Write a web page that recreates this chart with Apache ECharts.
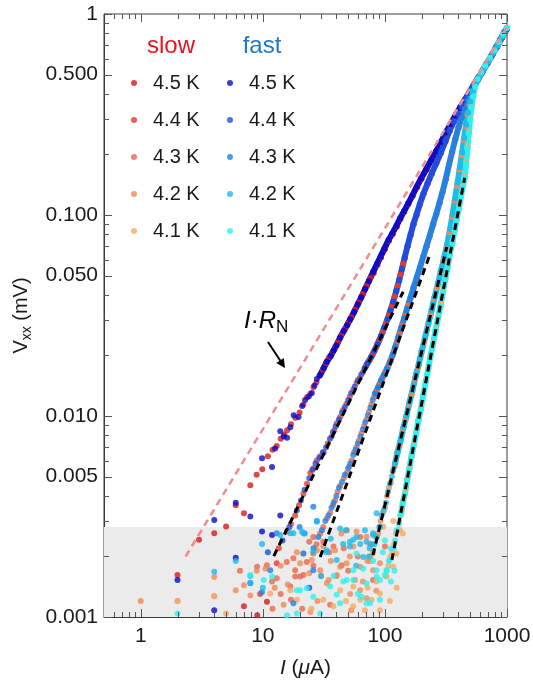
<!DOCTYPE html>
<html>
<head>
<meta charset="utf-8">
<script src="https://cdn.jsdelivr.net/npm/echarts@6/dist/echarts.min.js"></script>
<style>
  html, body { margin: 0; padding: 0; background: #ffffff; }
  #chart { width: 533px; height: 683px; }
</style>
</head>
<body>
<div id="chart"></div>
<script>
// ---- axis ticks and labels ----
const xMajor = [1, 10, 100, 1000];
const xMinor = [0.6, 0.7, 0.8, 0.9, 2, 3, 4, 5, 6, 7, 8, 9, 20, 30, 40, 50, 60, 70, 80, 90,
                200, 300, 400, 500, 600, 700, 800, 900];
const yMajor = [0.001, 0.005, 0.01, 0.05, 0.1, 0.5, 1];
const yMajorLabels = ['0.001', '0.005', '0.010', '0.050', '0.100', '0.500', '1'];
const yMinor = [0.002, 0.003, 0.004, 0.006, 0.007, 0.008, 0.009,
                0.02, 0.03, 0.04, 0.06, 0.07, 0.08, 0.09,
                0.2, 0.3, 0.4, 0.6, 0.7, 0.8, 0.9];

// measurement noise floor (mV)
const NOISE_FLOOR = 0.0028;

// ---- reference lines: I·R_N and power-law fits [I (uA), V (mV)] ----
const irnLine = [[2.33, 0.002], [1000, 0.86]];
const fit44 = [[12.3, 0.00201], [141, 0.0415]];
const fit43 = [[29.5, 0.00199], [233, 0.0633]];
const fit42 = [[79.8, 0.00203], [321, 0.0693]];
const fit41 = [[114, 0.00192], [450, 0.153]];

// ---- 4.5 K ----
const slow45 = [[2,0.00162],[3,0.00242],[4,0.00261],[5,0.00282],[6,0.0036],[7,0.00328],[7,0.00113],[7.9,0.00452],[8.9,0.0051],[9,0.00102],[9.9,0.00543],[10.8,0.00119],[11,0.0063],[12,0.0068],[13,0.0071],[14,0.0077],[15,0.0081],[15.8,0.0085],[17,0.0091],[18.5,0.0098],[20,0.0104],[21.5,0.0114],[23,0.0124],[24.5,0.0129],[26,0.0139],[27.5,0.0147]];
const slow45Band = [[29,0.0158],[31,0.017],[33,0.0183],[35,0.0196],[37,0.0206],[39,0.0219],[41,0.0232],[44,0.0252],[47,0.0271],[50,0.029],[53,0.031],[57,0.0338],[61,0.0367],[66,0.0405],[71,0.0445],[76,0.0485],[81,0.0515],[87,0.0565],[93,0.0615],[100,0.0675],[108,0.0745],[116,0.0805],[125,0.0875],[134,0.0955],[144,0.1035],[156,0.1135],[169,0.1245],[184,0.1375],[200,0.1515],[220,0.1685],[242,0.1875],[265,0.2065],[290,0.2305],[318,0.2565],[348,0.2835],[380,0.3125],[415,0.3415],[452,0.3725],[493,0.4055],[538,0.4425],[583,0.4795],[633,0.5195],[693,0.5695],[763,0.6295],[833,0.6895],[913,0.7645],[1000,0.845]];
const fast45 = [[2,0.00153],[4,0.00304],[4,0.00108],[6,0.0037],[6,0.00197],[7.9,0.00316],[9.85,0.00616],[9.85,0.00266],[11.9,0.00558],[11.9,0.00256],[12.6,0.0069],[13.9,0.0084],[13.9,0.0032],[14.8,0.0079],[15.8,0.0078],[16.8,0.0088],[17.9,0.0101],[19.6,0.0099],[21,0.0112],[22.2,0.012],[23.8,0.0125],[25.2,0.013],[26.5,0.0142],[27.7,0.0153]];
const fast45Band = [[29.5,0.016],[31.5,0.0173],[33.4,0.0186],[36,0.0199],[38,0.0212],[40,0.0224],[43,0.0246],[46,0.0265],[49,0.0283],[52,0.0303],[56,0.033],[60,0.036],[64,0.039],[69,0.043],[74,0.047],[80,0.052],[86,0.057],[92,0.062],[99,0.068],[107,0.075],[115,0.081],[124,0.088],[133,0.096],[143,0.104],[155,0.114],[168,0.125],[182,0.138],[198,0.152],[218,0.169],[240,0.188],[262,0.207],[288,0.231],[316,0.257],[345,0.284],[378,0.313],[412,0.342],[450,0.373],[490,0.406],[535,0.443],[580,0.48],[630,0.52],[690,0.57],[760,0.63],[830,0.69],[910,0.765],[1000,0.845]];

// ---- 4.4 K ----
const slow44 = [[9.5,0.0013],[13,0.00185],[13.5,0.0022],[15.8,0.00266],[17,0.0029],[18.4,0.0032],[19.8,0.0036],[21.5,0.0041],[23,0.0046],[24.5,0.0052],[26,0.0055],[27.7,0.006],[29.5,0.0063],[31.5,0.0066],[34,0.0073],[36.6,0.0079],[38.5,0.0085],[40.3,0.0092],[43,0.0099],[45.5,0.0107],[48.5,0.0115],[51.6,0.0125],[55,0.0135],[58.5,0.0146],[62,0.0154],[66,0.0165]];
const slow44Band = [[70,0.0177],[75,0.019],[80,0.0204],[85,0.022],[90,0.0238],[96,0.0262],[102,0.029],[108,0.0318],[114,0.0352],[120,0.0392],[127,0.0445],[134,0.0505],[141,0.057],[146,0.0612],[154,0.07],[163,0.0795],[172,0.09],[182,0.1],[194,0.113],[208,0.128],[224,0.143],[243,0.161],[264,0.181],[288,0.204],[313,0.232],[339,0.262],[366,0.29],[396,0.318],[426,0.345],[459,0.374],[493,0.406],[531,0.44],[573,0.475],[621,0.512],[676,0.56],[741,0.615],[811,0.68],[881,0.745],[951,0.81],[1000,0.85]];
const fast44 = [[11,0.0021],[24,0.0014],[14.5,0.0024],[16.5,0.0028],[19,0.0034],[20.5,0.0038],[22,0.0043],[24,0.0049],[25.5,0.0054],[27,0.0058],[29,0.0062],[31,0.0066],[33,0.007],[35.5,0.0077],[37.5,0.0083],[39.5,0.0089],[42,0.0096],[44.5,0.0104],[47,0.0111],[50,0.012],[53,0.013],[56.5,0.014],[60,0.015],[64,0.0161]];
const fast44Band = [[68,0.0172],[72,0.0183],[77,0.0196],[82,0.0211],[87,0.0228],[93,0.025],[99,0.0276],[105,0.0303],[111,0.0335],[117,0.037],[124,0.042],[131,0.0475],[138,0.054],[145,0.0612],[153,0.07],[162,0.0795],[171,0.09],[181,0.1],[193,0.113],[207,0.128],[223,0.143],[242,0.161],[263,0.181],[287,0.204],[312,0.232],[338,0.262],[365,0.29],[395,0.318],[425,0.345],[458,0.374],[492,0.406],[530,0.44],[572,0.475],[620,0.512],[675,0.56],[740,0.615],[810,0.68],[880,0.745],[950,0.81],[1000,0.85]];

// ---- 4.3 K ----
const slow43 = [[6.5,0.0017],[8.97,0.00178],[10.8,0.00181],[11.9,0.0015],[12,0.0011],[13,0.00156],[14,0.0013],[15.7,0.00188],[17,0.00122],[17.8,0.00196],[18.4,0.00171],[20.2,0.00159],[21,0.0011],[22.9,0.00188],[24,0.00237],[25.9,0.00207],[26,0.0018],[30,0.0016],[35,0.0021],[40,0.0016],[46,0.0022],[50,0.0017],[60,0.002],
  [21.5,0.00162],[44.3,0.00181],[80,0.00153],[100,0.00224],[35.6,0.00115],[16.8,0.00142],[18.4,0.00159],[25.9,0.0025],[31.3,0.00237],[37.9,0.00224],[48.6,0.0027],[62.7,0.0025],[75.4,0.00231],
  [27.5,0.0023],[29.5,0.0026],[31.3,0.0028],[33.5,0.0031],[35.6,0.0033],[37.5,0.0036],[39,0.0038],[41,0.0042],[43,0.0045],[46,0.0049],[48.6,0.0052],[51,0.0056],[53.4,0.006],[56,0.0066],[58.5,0.007],[61,0.0075],[64.3,0.0082],[67.5,0.0089],[70.7,0.0096],[74,0.0105],[77.6,0.0114],[81,0.0124]];
const slow43Band = [[85,0.0132],[90,0.0143],[95,0.0153],[100,0.0163],[106,0.0175],[112,0.019],[118,0.0207],[124,0.0228],[131,0.0255],[138,0.0283],[146,0.0315],[155,0.0355],[162,0.0384],[172,0.0432],[183,0.0487],[195,0.055],[207,0.062],[220,0.07],[234,0.079],[249,0.09],[264,0.101],[281,0.115],[298,0.131],[316,0.151],[336,0.178],[356,0.206],[378,0.238],[401,0.272],[426,0.305],[451,0.337],[479,0.37],[509,0.403],[543,0.438],[581,0.472],[626,0.512],[681,0.56],[746,0.615],[816,0.68],[886,0.745],[951,0.81],[1000,0.85]];
const fast43 = [[7.9,0.00147],[9.85,0.00133],[11.5,0.00171],[13,0.00261],[17.8,0.00117],[20,0.0028],[21.5,0.00207],[22,0.0026],[25.9,0.00171],[25.9,0.00354],[27.7,0.003],
  [26,0.0022],[28.5,0.0025],[30.5,0.0027],[32.5,0.003],[34.5,0.0032],[36.5,0.0035],[38,0.0037],[40,0.004],[42,0.0044],[44.5,0.0047],[47,0.0051],[50,0.0055],[52,0.0058],[55,0.0064],[57.5,0.0068],[60,0.0073],[63,0.0079],[66,0.0086],[69,0.0093],[72.5,0.0101],[76,0.011],[79.5,0.012]];
const fast43Band = [[83,0.0129],[88,0.0139],[93,0.015],[98,0.016],[104,0.0172],[110,0.0186],[116,0.0202],[122,0.0222],[129,0.0247],[136,0.0275],[144,0.0306],[152,0.0342],[161,0.0384],[171,0.0432],[182,0.0487],[194,0.055],[206,0.062],[219,0.07],[233,0.079],[248,0.09],[263,0.101],[280,0.115],[297,0.131],[315,0.151],[335,0.178],[355,0.206],[377,0.238],[400,0.272],[425,0.305],[450,0.337],[478,0.37],[508,0.403],[542,0.438],[580,0.472],[625,0.512],[680,0.56],[745,0.615],[815,0.68],[885,0.745],[950,0.81],[1000,0.85]];

// ---- 4.2 K ----
const slow42 = [[1,0.0012],[2,0.0012],[4,0.00158],[4,0.00127],[6,0.00136],[7,0.00144],[7.9,0.00128],[8.9,0.0017],[10.5,0.00174],[12.5,0.0014],[14,0.0018],[16,0.00145],[19,0.0021],[21.5,0.00207],[24,0.00165],[27.7,0.00215],[28,0.0012],[31.3,0.00224],[33.4,0.00147],[36,0.0019],[39,0.00215],[43,0.00178],[44,0.0026],[48.6,0.00185],[52,0.0013],[55.1,0.00224],[58.5,0.00266],[62.7,0.00178],[66,0.0015],[70.7,0.00251],[75,0.0019],[80,0.00171],[85,0.00135],
  [14.8,0.00115],[20.2,0.00185],[25.2,0.00192],[29.5,0.00171],[34.6,0.00153],[40.3,0.00162],[51.6,0.002],[56.8,0.00153],[62.7,0.00136],[70.7,0.00124],[91,0.00185],[53,0.00108],[24.5,0.00106],
  [72,0.0019],[76,0.002],[80,0.0021],[84,0.0025],[88,0.0026],[92,0.003],[96,0.0033],[100,0.0035],[104,0.004],[108,0.0044],[112,0.0047],[116,0.0053]];
const slow42Band = [[120,0.0056],[125,0.0065],[132,0.0072],[140,0.0086],[148,0.0096],[157,0.0115],[166,0.0129],[176,0.0153],[187,0.0175],[198,0.0207],[210,0.0234],[224,0.0282],[238,0.0322],[253,0.0385],[268,0.0436],[285,0.052],[302,0.0592],[320,0.0695],[338,0.082],[355,0.098],[372,0.118],[390,0.14],[408,0.168],[425,0.198],[442,0.236],[458,0.276],[475,0.318],[495,0.36],[520,0.405],[550,0.448],[585,0.485],[630,0.522],[690,0.572],[760,0.632],[830,0.692],[910,0.766],[1000,0.85]];
const fast42 = [[4,0.00168],[6,0.0019],[7.9,0.0016],[7.9,0.00148],[9.85,0.00231],[10,0.0014],[13.9,0.00256],[17.8,0.00261],[21.5,0.00261],[27.7,0.00298],[30,0.0016],[33,0.0021],[36,0.00245],[40.3,0.00192],[45.5,0.00231],[48,0.0027],[51.6,0.00224],[55.1,0.00242],[58,0.0018],[62.7,0.00231],[66.5,0.00199],[70.7,0.00237],[75,0.0022],[80,0.00261],[85.4,0.00328],[91,0.00281],
  [16.8,0.00261],[43,0.00276],[51.6,0.00237],[58.5,0.0025],[68.6,0.0027],[80,0.00256],[33.4,0.00215],[25.9,0.00211],[20.9,0.00266],
  [74,0.002],[78,0.0023],[82,0.0023],[86,0.0025],[90,0.0028],[94,0.0032],[98,0.0034],[102,0.0037],[106,0.0042],[110,0.0046],[114,0.005],[117,0.0054]];
const fast42Band = [[121,0.0058],[127,0.0066],[134,0.0075],[142,0.0088],[150,0.01],[159,0.0117],[168,0.0134],[178,0.0156],[189,0.018],[200,0.021],[213,0.0245],[227,0.0288],[241,0.0335],[256,0.0392],[272,0.0455],[289,0.0532],[306,0.0615],[324,0.0715],[342,0.085],[359,0.101],[376,0.121],[394,0.145],[412,0.173],[429,0.205],[446,0.242],[462,0.282],[480,0.324],[500,0.366],[525,0.41],[556,0.452],[592,0.49],[638,0.528],[698,0.578],[768,0.638],[838,0.698],[915,0.77],[1000,0.85]];

// ---- 4.1 K ----
const slow41 = [[2,0.0012],[4,0.00127],[5,0.00104],[11.5,0.00131],[16.8,0.00136],[19,0.00122],[25,0.0011],[31.3,0.00122],[37.9,0.00113],[43,0.00136],[48,0.0012],[55.1,0.00142],[55,0.00113],[62.7,0.00122],[68.6,0.00108],[72,0.0014],[77.6,0.00122],[85,0.0015],[91,0.00131],[91,0.00108],[97,0.00281],[103,0.00159],[110,0.0012],[117,0.00178],[117,0.003],[124,0.00207],[125,0.0014],[133,0.00271],[140,0.0026],
  [102,0.0016],[107,0.0018],[111,0.002],[115,0.0021],[119,0.0023],[123,0.0026],[127,0.0027],[131,0.003],[134,0.0032]];
const slow41Band = [[137,0.0034],[141,0.0038],[147,0.0042],[153,0.0049],[159,0.0055],[166,0.0063],[173,0.0072],[181,0.0083],[189,0.0096],[198,0.0111],[207,0.0128],[217,0.015],[227,0.0172],[238,0.02],[249,0.0231],[261,0.027],[273,0.031],[286,0.0362],[299,0.0415],[313,0.0483],[327,0.0553],[342,0.064],[357,0.073],[373,0.0845],[389,0.097],[405,0.11],[421,0.125],[437,0.141],[451,0.156],[463,0.183],[475,0.218],[487,0.258],[499,0.303],[513,0.348],[529,0.393],[549,0.437],[576,0.477],[616,0.514],[666,0.557],[726,0.607],[791,0.662],[861,0.727],[931,0.792],[1000,0.855]];
const fast41 = [[2,0.00104],[7.9,0.00162],[10.2,0.00153],[11.9,0.00159],[19,0.00104],[20.2,0.00136],[25.9,0.00126],[29.5,0.00104],[35.6,0.00142],[38,0.0016],[43,0.00117],[45.5,0.0015],[55.1,0.00153],[60,0.0013],[64.3,0.00126],[70.7,0.00147],[70.7,0.00117],[80,0.0019],[85.4,0.00171],[91,0.00153],[91,0.00122],[96,0.0021],[100,0.0024],[103,0.00171],[109,0.00192],[112,0.0015],[120,0.0017],
  [15.8,0.00102],[19,0.00136],[22.9,0.00139],[40.3,0.00129],[48.6,0.00153],[55.1,0.00171],[66.5,0.00174],[75.4,0.00117],[85.4,0.00159],[100,0.00162],[58.5,0.00207],
  [104,0.0017],[108,0.0019],[112,0.0022],[118,0.0022],[121,0.0024],[125,0.0027],[130,0.0029],[134,0.0032]];
const fast41Band = [[136,0.0033],[140,0.0037],[146,0.0041],[152,0.0048],[158,0.0054],[165,0.0063],[172,0.0071],[180,0.0082],[188,0.0095],[197,0.0108],[206,0.0127],[216,0.0148],[226,0.017],[237,0.0201],[248,0.0229],[260,0.0267],[272,0.0307],[285,0.0352],[298,0.0411],[312,0.0478],[326,0.0548],[341,0.0641],[356,0.0724],[372,0.0837],[388,0.0958],[404,0.1075],[420,0.124],[436,0.139],[450,0.153],[462,0.18],[474,0.215],[486,0.255],[498,0.3],[512,0.345],[528,0.39],[548,0.435],[575,0.475],[615,0.512],[665,0.555],[725,0.605],[790,0.66],[860,0.725],[930,0.79],[1000,0.855]];

// ---- series groups ----
const temps = ['4.5 K', '4.4 K', '4.3 K', '4.2 K', '4.1 K'];
const slowColors = ['#d7191c', '#e53a2b', '#e8674c', '#ef8b58', '#f3ab68'];
const fastColors = ['#0b0bc8', '#1a4ee2', '#2182e2', '#1cbce8', '#2ef0f0'];
const slowPts = [slow45, slow44, slow43, slow42, slow41];
const slowBands = [slow45Band, slow44Band, slow43Band, slow42Band, slow41Band];
const fastPts = [fast45, fast44, fast43, fast42, fast41];
const fastBands = [fast45Band, fast44Band, fast43Band, fast42Band, fast41Band];

const FONT = "'Liberation Sans', Arial, Helvetica, sans-serif";
const AXIS_COLOR = '#3a3a3a';
const TICK_COLOR = '#555555';
const TEXT_COLOR = '#1a1a1a';
const MAJOR_LEN = 8;
const MINOR_LEN = 5;

function yLabel(v) {
  for (let i = 0; i < yMajor.length; i++) {
    if (Math.abs(Math.log10(v) - Math.log10(yMajor[i])) < 1e-6) return yMajorLabels[i];
  }
  return '';
}

const option = {
  animation: false,
  backgroundColor: '#ffffff',
  textStyle: { fontFamily: FONT },
  grid: { left: 104, right: 26, top: 14, bottom: 66, containLabel: false,
          outerBoundsMode: 'none',
          show: true, borderColor: AXIS_COLOR, borderWidth: 1, backgroundColor: 'transparent' },
  xAxis: {
    type: 'log', logBase: 10, min: 0.5, max: 1000, position: 'bottom',
    axisLine: { show: true, onZero: false, lineStyle: { color: AXIS_COLOR, width: 1 } },
    axisTick: { show: false },
    axisLabel: { show: true, customValues: xMajor, margin: 9, fontSize: 21, color: TEXT_COLOR,
                 fontFamily: FONT, formatter: v => String(Math.round(v)) },
    splitLine: { show: false }, minorTick: { show: false },
    name: '{it|I}{t| (}{it|μ}{t|A)}', nameLocation: 'middle', nameGap: 41,
    nameTextStyle: { rich: {
      t: { fontSize: 21, fontFamily: FONT, color: TEXT_COLOR },
      it: { fontSize: 21, fontFamily: FONT, fontStyle: 'italic', color: TEXT_COLOR }
    } }
  },
  yAxis: {
    type: 'log', logBase: 10, min: 0.001, max: 1, position: 'left',
    axisLine: { show: true, onZero: false, lineStyle: { color: AXIS_COLOR, width: 1 } },
    axisTick: { show: false },
    axisLabel: { show: true, customValues: yMajor, margin: 6, fontSize: 21, color: TEXT_COLOR,
                 fontFamily: FONT, formatter: yLabel },
    splitLine: { show: false }, minorTick: { show: false },
    name: '{t|V}{s|xx}{t| (mV)}', nameLocation: 'middle', nameGap: 64,
    nameTextStyle: { rich: {
      t: { fontSize: 20, lineHeight: 26, fontFamily: FONT, color: TEXT_COLOR },
      s: { fontSize: 14, lineHeight: 14, verticalAlign: 'bottom', fontFamily: FONT, color: TEXT_COLOR }
    } }
  },
  legend: [],
  graphic: [
    { type: 'text', x: 171, y: 46, style: { text: 'slow', fill: '#e8141c',
      font: "24px 'Liberation Sans', Arial, sans-serif", align: 'center', verticalAlign: 'middle' } },
    { type: 'text', x: 262, y: 46, style: { text: 'fast', fill: '#1e78c2',
      font: "24px 'Liberation Sans', Arial, sans-serif", align: 'center', verticalAlign: 'middle' } },
    { type: 'text', x: 244, y: 321, style: {
      text: '{it|I}{t|·}{it|R}{s|N}', align: 'left', verticalAlign: 'middle',
      rich: {
        it: { fontSize: 24, lineHeight: 30, fontStyle: 'italic', fontFamily: FONT, fill: '#000' },
        t: { fontSize: 24, lineHeight: 30, fontFamily: FONT, fill: '#000' },
        s: { fontSize: 17, lineHeight: 17, verticalAlign: 'bottom', fontFamily: FONT, fill: '#000' }
      } } },
    { type: 'line', shape: { x1: 268, y1: 342, x2: 280.5, y2: 361 },
      style: { stroke: '#000', lineWidth: 2 } },
    { type: 'polygon', shape: { points: [[285, 368], [276.3, 362.9], [283.8, 358.0]] },
      style: { fill: '#000' } }
  ],
  series: []
};

// ---- data series ----
function addGroup(prefix, colors, pts, bands, bandWidth) {
  temps.forEach((t, i) => {
    const name = prefix + ' ' + t;
    option.series.push({
      type: 'scatter', name: name, data: pts[i], symbol: 'circle', symbolSize: 6,
      itemStyle: { color: colors[i] }, z: 2, silent: true
    });
    option.series.push({
      type: 'line', name: name, data: bands[i], symbol: 'circle', symbolSize: 6,
      showSymbol: true, showAllSymbol: true, smooth: false,
      lineStyle: { color: colors[i], width: bandWidth }, itemStyle: { color: colors[i] },
      z: 2, silent: true
    });
  });
}
addGroup('slow', slowColors, slowPts, slowBands, 4);
addGroup('fast', fastColors, fastPts, fastBands, 6);

// I·R_N line, with the noise-floor band behind everything
option.series.push({
  type: 'line', name: 'IRn', data: irnLine, symbol: 'none', z: 3, silent: true,
  lineStyle: { color: '#f28b8d', width: 2.5, type: [7, 5] },
  markArea: {
    silent: true, itemStyle: { color: '#ebebeb' },
    data: [[{ coord: [0.5, 0.001] }, { coord: [1000, NOISE_FLOOR] }]]
  }
});
[fit44, fit43, fit42, fit41].forEach((f, i) => {
  option.series.push({
    type: 'line', name: 'fit' + i, data: f, symbol: 'none', z: 4, silent: true,
    lineStyle: { color: '#000000', width: 3, type: [7, 5] }
  });
});

// ---- inward ticks on all four sides of the frame, placed through the axis scales ----
function tickSeries(values, len, onX) {
  return {
    type: 'custom', coordinateSystem: 'cartesian2d', silent: true, z: 10,
    data: values.map(v => onX ? [v, 0.01] : [1, v]),
    renderItem: function (params, api) {
      const cs = params.coordSys;
      const p = api.coord([api.value(0), api.value(1)]);
      const st = { stroke: TICK_COLOR, lineWidth: 1 };
      if (onX) {
        const x = Math.round(p[0]) + 0.5;
        const b = cs.y + cs.height, t = cs.y;
        return { type: 'group', children: [
          { type: 'line', shape: { x1: x, y1: b, x2: x, y2: b - len }, style: st },
          { type: 'line', shape: { x1: x, y1: t, x2: x, y2: t + len }, style: st }
        ] };
      }
      const y = Math.round(p[1]) + 0.5;
      const l = cs.x, r = cs.x + cs.width;
      return { type: 'group', children: [
        { type: 'line', shape: { x1: l, y1: y, x2: l + len, y2: y }, style: st },
        { type: 'line', shape: { x1: r, y1: y, x2: r - len, y2: y }, style: st }
      ] };
    }
  };
}
option.series.push(tickSeries(xMajor, MAJOR_LEN, true));
option.series.push(tickSeries(xMinor, MINOR_LEN, true));
option.series.push(tickSeries(yMajor, MAJOR_LEN, false));
option.series.push(tickSeries(yMinor, MINOR_LEN, false));

// ---- legends: one column per sweep mode ----
const legendBase = {
  orient: 'vertical', top: 68, itemGap: 17, itemWidth: 28, itemHeight: 6,
  icon: 'circle', selectedMode: false,
  textStyle: { fontSize: 20, lineHeight: 20, color: TEXT_COLOR, fontFamily: FONT }
};
option.legend = [
  Object.assign({}, legendBase, { left: 126, data: temps.map(t => 'slow ' + t),
    formatter: n => n.replace('slow ', '') }),
  Object.assign({}, legendBase, { left: 222, data: temps.map(t => 'fast ' + t),
    formatter: n => n.replace('fast ', '') })
];

const chart = echarts.init(document.getElementById('chart'), null, { renderer: 'canvas' });
chart.setOption(option);
</script>
</body>
</html>
